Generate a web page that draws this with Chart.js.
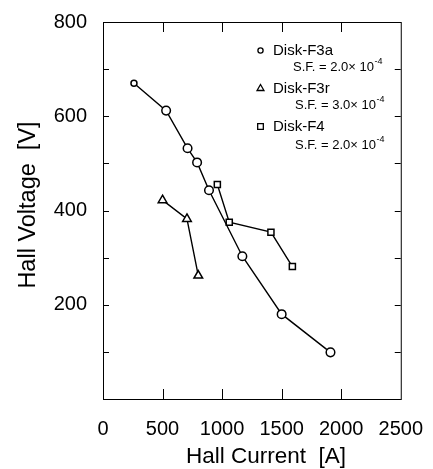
<!DOCTYPE html>
<html>
<head>
<meta charset="utf-8">
<script src="https://cdn.jsdelivr.net/npm/chart.js@4/dist/chart.umd.min.js"></script>
<style>
    html,body{margin:0;padding:0;background:#fff;}
    #wrap{width:433px;height:469px;position:relative;}
</style>
</head>
<body>
<div id="wrap"><canvas id="hallChart" width="433" height="469"></canvas></div>
<script>

/* ===== DATA ===== */

const seriesNames = ["Disk-F3a","Disk-F3r","Disk-F4"];
const sfMantissa = ["2.0","3.0","2.0"];
const sfExponent = "-4";

const f3aCurrent = [260, 530, 710, 790, 890, 1170, 1500, 1910];
const f3aVoltage = [670, 612, 532, 502, 443, 303, 180, 99];

const f3rCurrent = [500, 705, 800];
const f3rVoltage = [422, 382, 262];

const f4Current = [960, 1060, 1410, 1590];
const f4Voltage = [455, 375, 354, 281];

const xTicks = [0, 500, 1000, 1500, 2000, 2500];
const yTicks = [200, 400, 600, 800];

const xTitle = "Hall Current  [A]";
const yTitle = "Hall Voltage  [V]";

const FONT = "'Liberation Sans', Arial, Helvetica, sans-serif";

function toPoints(xs, ys){
    return xs.map((x,i)=>({x:x, y:ys[i]}));
}

/* ===== FRAME + INWARD TICKS + TITLES + LEGEND ===== */

const framePlugin = {
    id:"frame",
    afterDatasetsDraw(chart){
        const ctx = chart.ctx;
        const a = chart.chartArea;
        const xs = chart.scales.x;
        const ys = chart.scales.y;

        ctx.save();
        ctx.strokeStyle = "#000";
        ctx.lineWidth = 1;
        ctx.strokeRect(a.left+0.5, a.top+0.5, a.right-a.left, a.bottom-a.top);

        ctx.beginPath();
        for(let v=500; v<2500; v+=500){
            const px = Math.round(xs.getPixelForValue(v))+0.5;
            ctx.moveTo(px, a.bottom); ctx.lineTo(px, a.bottom-10);
            ctx.moveTo(px, a.top); ctx.lineTo(px, a.top+10);
        }
        for(let v=100; v<800; v+=100){
            const py = Math.round(ys.getPixelForValue(v))+0.5;
            ctx.moveTo(a.left, py); ctx.lineTo(a.left+6, py);
            ctx.moveTo(a.right, py); ctx.lineTo(a.right-6, py);
        }
        ctx.stroke();

        /* axis titles */
        ctx.fillStyle = "#000";
        ctx.textAlign = "center";
        ctx.textBaseline = "alphabetic";
        ctx.font = "22.5px "+FONT;
        ctx.fillText(xTitle, 266, 463);
        ctx.font = "23.5px "+FONT;
        ctx.save();
        ctx.translate(35, 205);
        ctx.rotate(-Math.PI/2);
        ctx.fillText(yTitle, 0, 0);
        ctx.restore();

        /* legend */
        const rows = [
            {style:"circle",   r:2.6, my:50.5,  ty:51,  sx:293, sy:67},
            {style:"triangle", r:4,   my:88.5,  ty:89,  sx:295, sy:105},
            {style:"rect",     r:4,   my:126.5, ty:127, sx:295, sy:145}
        ];
        ctx.lineWidth = 1.3;
        ctx.textBaseline = "middle";
        ctx.textAlign = "left";
        rows.forEach((row,i)=>{
            ctx.fillStyle = "#fff";
            Chart.helpers.drawPoint(ctx,{pointStyle:row.style,radius:row.r,rotation:0,borderWidth:1.3},260.5,row.my);
            ctx.fillStyle = "#000";
            ctx.font = "15px "+FONT;
            ctx.fillText(seriesNames[i], 273, row.ty);
            ctx.font = "13px "+FONT;
            const base = "S.F. = "+sfMantissa[i]+"\u00d7 10";
            ctx.fillText(base, row.sx, row.sy);
            const w = ctx.measureText(base).width;
            ctx.font = "9px "+FONT;
            ctx.fillText(sfExponent, row.sx+w+0.5, row.sy-5);
        });
        ctx.restore();
    }
};

/* ===== CHART ===== */

const lineStyle = {
    showLine:true,
    borderColor:"#000",
    borderWidth:1.4,
    pointBackgroundColor:"#fff",
    pointBorderColor:"#000",
    pointBorderWidth:1.5,
    tension:0
};

new Chart(document.getElementById("hallChart"),{
    type:"scatter",
    data:{
        datasets:[
            {...lineStyle, label:seriesNames[0], data:toPoints(f3aCurrent,f3aVoltage),
                pointStyle:"circle", pointRadius:c=>c.dataIndex===0 ? 3 : 4.3},
            {...lineStyle, label:seriesNames[1], data:toPoints(f3rCurrent,f3rVoltage),
                pointStyle:"triangle", pointRadius:5},
            {...lineStyle, label:seriesNames[2], data:toPoints(f4Current,f4Voltage),
                pointStyle:"rect", pointRadius:4.3}
        ]
    },
    options:{
        responsive:false,
        animation:false,
        devicePixelRatio:1,
        layout:{padding:{top:22,right:27,left:0,bottom:0}},
        plugins:{legend:{display:false},tooltip:{enabled:false}},
        scales:{
            x:{
                type:"linear",
                min:0,max:2500,
                afterFit:s=>{s.height=70;},
                afterBuildTicks:s=>{s.ticks = xTicks.map(v=>({value:v}));},
                grid:{display:false},
                border:{display:false},
                ticks:{color:"#000",font:{family:FONT,size:20},padding:10,maxRotation:0,
                    callback:v=>String(v)}
            },
            y:{
                type:"linear",
                min:0,max:800,
                afterFit:s=>{s.width=103;},
                afterBuildTicks:s=>{s.ticks = yTicks.map(v=>({value:v}));},
                grid:{display:false},
                border:{display:false},
                ticks:{color:"#000",font:{family:FONT,size:20},padding:8,
                    callback:v=>String(v)}
            }
        }
    },
    plugins:[framePlugin]
});
</script>
</body>
</html>
